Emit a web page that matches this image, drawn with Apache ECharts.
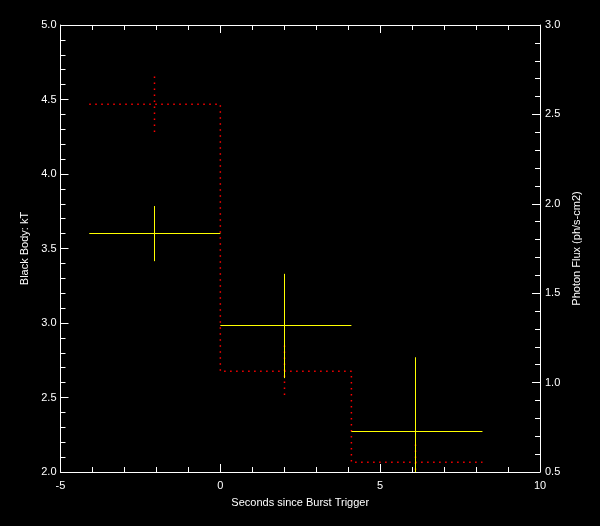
<!DOCTYPE html>
<html>
<head>
<meta charset="utf-8">
<script src="https://cdn.jsdelivr.net/npm/echarts@6/dist/echarts.min.js"></script>
<style>
  html, body { margin: 0; padding: 0; background: #000; }
  #chart { width: 600px; height: 526px; }
</style>
</head>
<body>
<div id="chart"></div>
<script>
// ---- data ----
const binLo = [-4.1, 0.0, 4.1];
const binHi = [0.0, 4.1, 8.2];
const binCenter = [-2.05, 2.0, 6.1];
const kT = [3.60, 2.98, 2.27];
const kTErr = [0.185, 0.35, 0.50];
const flux = [2.557, 1.063, 0.554];
const fluxErr = [0.155, 0.145, 0.10];
const xTicks = [-5, 0, 5, 10];
const leftTicks = [2.0, 2.5, 3.0, 3.5, 4.0, 4.5, 5.0];
const rightTicks = [0.5, 1.0, 1.5, 2.0, 2.5, 3.0];

const FONT = 'Liberation Sans';

// step line for flux
const fluxStep = [];
for (let i = 0; i < flux.length; i++) {
  fluxStep.push([binLo[i], flux[i]]);
  fluxStep.push([binHi[i], flux[i]]);
}
const kTData = kT.map((v, i) => [binLo[i], binHi[i], binCenter[i], v, kTErr[i]]);
const fluxErrData = flux.map((v, i) => [binCenter[i], v, fluxErr[i]]);

function crisp(v) { return Math.round(v - 0.5) + 0.5; }

function axisCommon() {
  return {
    axisLine: { show: true, onZero: false, lineStyle: { color: '#fff', width: 1 } },
    axisTick: { show: true, inside: true, length: 8, lineStyle: { color: '#fff', width: 1 } },
    minorTick: { show: true, splitNumber: 5, length: 5, lineStyle: { color: '#fff', width: 1 } },
    splitLine: { show: false },
    minorSplitLine: { show: false }
  };
}

const chart = echarts.init(document.getElementById('chart'), null, { renderer: 'canvas' });
chart.setOption({
  backgroundColor: '#000',
  animation: false,
  grid: { left: 60.5, right: 60, top: 25, bottom: 54, containLabel: false },
  xAxis: [
    Object.assign({
      type: 'value', position: 'bottom', min: xTicks[0], max: xTicks[xTicks.length - 1], interval: 5,
      name: 'Seconds since Burst Trigger', nameLocation: 'middle', nameGap: 25,
      nameTextStyle: { color: '#fff', fontFamily: FONT, fontSize: 11 },
      axisLabel: { color: '#fff', fontFamily: FONT, fontSize: 11, margin: 8 }
    }, axisCommon()),
    Object.assign({
      type: 'value', position: 'top', min: xTicks[0], max: xTicks[xTicks.length - 1], interval: 5,
      axisLabel: { show: false }
    }, axisCommon())
  ],
  yAxis: [
    Object.assign({
      type: 'value', position: 'left', min: leftTicks[0], max: leftTicks[leftTicks.length - 1], interval: 0.5,
      name: 'Black Body: kT', nameLocation: 'middle', nameGap: 30, nameRotate: 90,
      nameTextStyle: { color: '#fff', fontFamily: FONT, fontSize: 11 },
      axisLabel: { color: '#fff', fontFamily: FONT, fontSize: 11, margin: 4, formatter: v => v.toFixed(1) }
    }, axisCommon()),
    Object.assign({
      type: 'value', position: 'right', min: rightTicks[0], max: rightTicks[rightTicks.length - 1], interval: 0.5,
      name: 'Photon Flux (ph/s-cm2)', nameLocation: 'middle', nameGap: 25, nameRotate: 90,
      nameTextStyle: { color: '#fff', fontFamily: FONT, fontSize: 11 },
      axisLabel: { color: '#fff', fontFamily: FONT, fontSize: 11, margin: 5, formatter: v => v.toFixed(1) }
    }, axisCommon())
  ],
  series: [
    {
      type: 'line', xAxisIndex: 0, yAxisIndex: 1, data: fluxStep,
      symbol: 'none', silent: true,
      lineStyle: { color: '#ff0000', width: 1.5, type: [1.5, 4.5] },
      z: 2
    },
    {
      type: 'custom', xAxisIndex: 0, yAxisIndex: 1, data: fluxErrData, clip: true, silent: true,
      encode: { x: [0], y: [1] },
      renderItem: function (params, api) {
        const c = api.value(0), v = api.value(1), e = api.value(2);
        const p1 = api.coord([c, v + e]);
        const p2 = api.coord([c, v - e]);
        return {
          type: 'line',
          shape: { x1: crisp(p1[0]), y1: p1[1], x2: crisp(p2[0]), y2: p2[1] },
          style: { stroke: '#ff0000', lineWidth: 1.5, lineDash: [1.5, 4.5] }
        };
      },
      z: 2
    },
    {
      type: 'custom', xAxisIndex: 0, yAxisIndex: 0, data: kTData, clip: true, silent: true,
      encode: { x: [0, 1, 2], y: [3] },
      renderItem: function (params, api) {
        const lo = api.value(0), hi = api.value(1), c = api.value(2), v = api.value(3), e = api.value(4);
        const a = api.coord([lo, v]), b = api.coord([hi, v]);
        const t = api.coord([c, v + e]), d = api.coord([c, v - e]);
        const yy = crisp(a[1]), xx = crisp(t[0]);
        return {
          type: 'group',
          children: [
            { type: 'line', shape: { x1: a[0], y1: yy, x2: b[0], y2: yy }, style: { stroke: '#ffff00', lineWidth: 1 } },
            { type: 'line', shape: { x1: xx, y1: t[1], x2: xx, y2: d[1] }, style: { stroke: '#ffff00', lineWidth: 1 } }
          ]
        };
      },
      z: 3
    }
  ]
});
</script>
</body>
</html>
